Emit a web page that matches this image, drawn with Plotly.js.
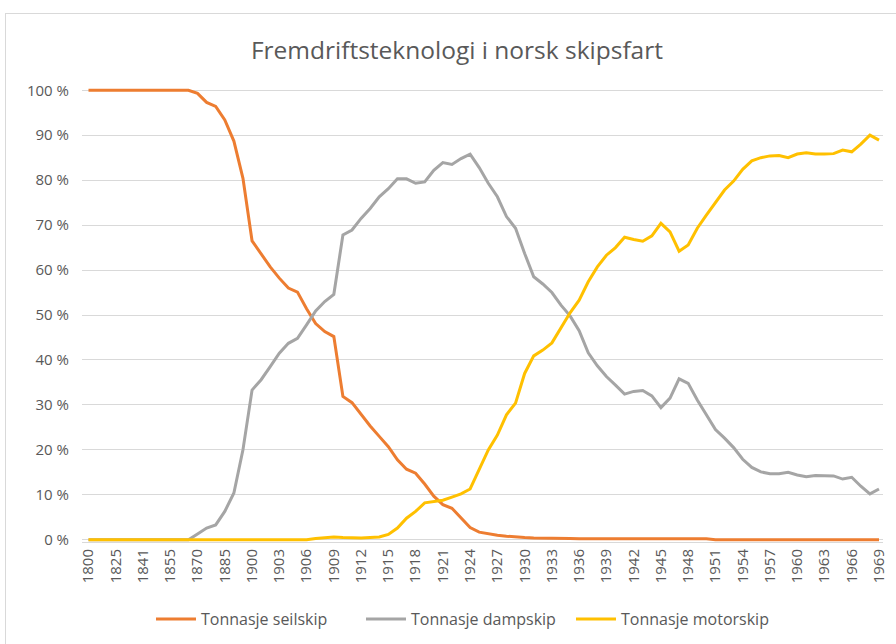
<!DOCTYPE html>
<html>
<head>
<meta charset="utf-8">
<script src="https://cdn.plot.ly/plotly-3.0.1.min.js"></script>
<style>
  html, body { margin: 0; padding: 0; background: #ffffff; overflow: hidden; }
  #chart { width: 896px; height: 644px; position: absolute; left: 0; top: 0; }
  #frame { position: absolute; left: 5px; top: 13px; width: 900px; height: 640px;
           border: 1px solid #d9d9d9; pointer-events: none; }
</style>
</head>
<body>
<div id="chart"></div>
<div id="frame"></div>
<script>
// Categories (years) – Excel category axis
const years = [
  "1800","1810","1820","1825","1830","1835","1841","1845","1850","1855",
  "1860","1865","1870","1875","1880","1885","1890","1895",
  "1900","1901","1902","1903","1904","1905","1906","1907","1908","1909",
  "1910","1911","1912","1913","1914","1915","1916","1917","1918","1919",
  "1920","1921","1922","1923","1924","1925","1926","1927","1928","1929",
  "1930","1931","1932","1933","1934","1935","1936","1937","1938","1939",
  "1940","1941","1942","1943","1944","1945","1946","1947","1948","1949",
  "1950","1951","1952","1953","1954","1955","1956","1957","1958","1959",
  "1960","1961","1962","1963","1964","1965","1966","1967","1968","1969"
];

// Share of tonnage (%)
const seilskip = [
  100,100,100,100,100,100,100,100,100,100,
  100,100,99.3,97.3,96.4,93.4,88.7,80.4,
  66.5,63.7,60.7,58.2,56.0,55.1,51.4,48.1,46.3,45.2,
  31.9,30.5,27.8,25.3,23.0,20.7,17.8,15.7,14.8,12.4,
  9.7,7.8,7.0,4.9,2.7,1.7,1.3,1.0,0.8,0.6,
  0.5,0.4,0.4,0.3,0.3,0.3,0.2,0.2,0.2,0.2,
  0.2,0.2,0.2,0.2,0.2,0.2,0.2,0.2,0.2,0.2,
  0.2,0,0,0,0,0,0,0,0,0,
  0,0,0,0,0,0,0,0,0,0
];

const dampskip = [
  0,0,0,0,0,0,0,0,0,0,
  0,0,1.3,2.6,3.3,6.3,10.4,20.0,
  33.3,35.6,38.5,41.5,43.7,44.8,47.8,50.9,53.0,54.6,
  67.8,68.9,71.5,73.7,76.3,78.1,80.3,80.3,79.3,79.6,
  82.2,83.9,83.5,84.8,85.8,82.8,79.3,76.3,71.9,69.3,
  63.7,58.5,56.9,55.0,52.2,49.8,46.5,41.6,38.7,36.3,
  34.4,32.4,33.0,33.2,32.0,29.4,31.5,35.8,34.8,31.1,
  27.8,24.5,22.6,20.5,17.9,16.1,15.1,14.7,14.7,15.0,
  14.4,14.0,14.3,14.3,14.2,13.5,13.9,11.9,10.2,11.3
];

const motorskip = [
  0,0,0,0,0,0,0,0,0,0,
  0,0,0,0,0,0,0,0,
  0,0,0,0,0,0,0,0.3,0.5,0.6,
  0.5,0.4,0.4,0.5,0.6,1.2,2.6,4.8,6.3,8.2,
  8.5,8.8,9.5,10.2,11.3,15.6,20.0,23.3,27.8,30.4,
  37.0,40.9,42.2,43.8,47.0,50.5,53.3,57.4,60.7,63.3,
  65.0,67.3,66.8,66.4,67.6,70.4,68.5,64.2,65.6,69.3,
  72.2,75.0,77.8,79.8,82.4,84.3,85.0,85.4,85.5,85.0,
  85.8,86.1,85.8,85.8,85.9,86.7,86.3,88.0,90.0,88.9
];

const seriesNames = ["Tonnasje seilskip", "Tonnasje dampskip", "Tonnasje motorskip"];
const seriesColors = ["#ED7D31", "#A5A5A5", "#FFC000"];
const yTicks = [0,10,20,30,40,50,60,70,80,90,100];

const xTickVals = years.filter((y, i) => i % 3 === 0);

const allSeries = [seilskip, dampskip, motorskip];
const traces = allSeries.map((vals, k) => ({
  type: "scatter",
  mode: "lines",
  x: years,
  y: vals,
  name: seriesNames[k],
  line: { color: seriesColors[k], width: 3 },
  hoverinfo: "skip"
}));

const font = "Open Sans, Noto Sans, sans-serif";

const layout = {
  width: 896,
  height: 644,
  paper_bgcolor: "#ffffff",
  plot_bgcolor: "#ffffff",
  margin: { l: 82, r: 13, t: 87.75, b: 101.75, pad: 0 },
  title: {
    text: "Fremdriftsteknologi i norsk skipsfart",
    font: { family: font, size: 24.5, color: "#595959" },
    x: 0.51, xref: "container", xanchor: "center",
    y: 1 - 50 / 644, yref: "container", yanchor: "middle"
  },
  showlegend: true,
  legend: {
    orientation: "h",
    xref: "container", yref: "container",
    x: (160 - 9) / 896, xanchor: "left",
    y: (644 - 619) / 644, yanchor: "middle",
    font: { family: font, size: 16, color: "#595959" },
    traceorder: "normal",
    itemwidth: 40,
    entrywidth: 155,
    entrywidthmode: "pixels"
  },
  xaxis: {
    type: "category",
    range: [-0.715, 87.44],
    tickmode: "array",
    tickvals: xTickVals,
    ticktext: xTickVals,
    tickangle: -90,
    tickfont: { family: font, size: 15, color: "#595959" },
    showgrid: false,
    showline: true,
    linecolor: "#d9d9d9",
    linewidth: 1,
    ticks: "",
    zeroline: false,
    fixedrange: true
  },
  yaxis: {
    range: [-0.5, 100.5],
    tickmode: "array",
    tickvals: yTicks,
    ticktext: yTicks.map(v => v + " %"),
    tickfont: { family: font, size: 15, color: "#595959" },
    showgrid: true,
    gridcolor: "#d9d9d9",
    gridwidth: 1,
    zeroline: false,
    showline: false,
    ticks: "",
    ticklabelstandoff: 12,
    fixedrange: true
  }
};

Plotly.newPlot("chart", traces, layout, { staticPlot: true, displayModeBar: false });
</script>
</body>
</html>
